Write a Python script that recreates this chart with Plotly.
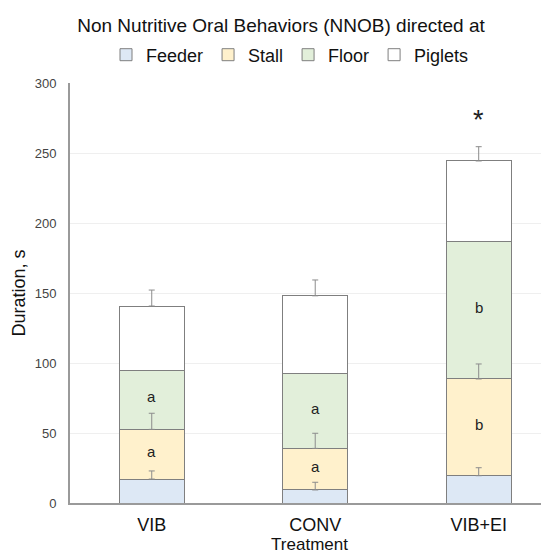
import plotly.graph_objects as go

treatments = ["VIB", "CONV", "VIB+EI"]
feeder = [17.1, 9.3, 19.5]
stall = [35.5, 29.7, 69.1]
floor_ = [42.4, 53.6, 98.1]
piglets = [45.7, 55.4, 57.6]
feeder_err = [5.8, 5.5, 5.7]
stall_err = [11.5, 10.8, 10.7]
piglets_err = [11.4, 11.3, 10.2]
stall_letters = ["a", "a", "b"]
floor_letters = ["a", "a", "b"]
star_label = "*"

font = "Liberation Sans, Arial, sans-serif"
edge = "#7f7f7f"

def err(vals):
    return dict(type="data", symmetric=False, array=vals, arrayminus=[0] * len(vals),
                visible=True, color="#8c8c8c", thickness=1, width=3)

fig = go.Figure()
fig.add_trace(go.Bar(name="Feeder", x=treatments, y=feeder, marker=dict(color="#dde8f5", line=dict(color=edge, width=1))))
fig.add_trace(go.Bar(name="Stall", x=treatments, y=stall, marker=dict(color="#fff1cc", line=dict(color=edge, width=1))))
fig.add_trace(go.Bar(name="Floor", x=treatments, y=floor_, marker=dict(color="#e2efda", line=dict(color=edge, width=1))))
fig.add_trace(go.Bar(name="Piglets", x=treatments, y=piglets, marker=dict(color="#ffffff", line=dict(color=edge, width=1))))

# error bars drawn on top of the stack, at the top of each segment
cum1 = [a for a in feeder]
cum2 = [a + b for a, b in zip(feeder, stall)]
cum4 = [a + b + c + d for a, b, c, d in zip(feeder, stall, floor_, piglets)]
for ys, es in [(cum1, feeder_err), (cum2, stall_err), (cum4, piglets_err)]:
    fig.add_trace(go.Scatter(x=treatments, y=ys, mode="markers", marker=dict(size=1, opacity=0),
                             error_y=err(es), showlegend=False, hoverinfo="skip"))

ann = []
for i, t in enumerate(treatments):
    ann.append(dict(x=t, y=feeder[i] + stall[i] / 2 + 2, text=stall_letters[i], showarrow=False, xref="x", yref="y", font=dict(size=15, color="#222", family=font)))
    ann.append(dict(x=t, y=feeder[i] + stall[i] + floor_[i] / 2 + 2, text=floor_letters[i], showarrow=False, xref="x", yref="y", font=dict(size=15, color="#222", family=font)))
top = cum4[2] + piglets_err[2]
ann.append(dict(x=treatments[2], y=top + 19, text=star_label, showarrow=False, xref="x", yref="y", font=dict(size=27, color="#222", family=font)))

# page body has an 8px margin, so the figure is 8px smaller than the window
fig.update_layout(
    barmode="stack",
    bargap=0.6,
    width=541, height=546,
    margin=dict(l=62, r=0, t=75, b=51),
    paper_bgcolor="white", plot_bgcolor="white",
    font=dict(family=font, color="#111"),
    title=dict(text="Non Nutritive Oral Behaviors (NNOB) directed at", x=273 / 541, xanchor="center", y=1 - 17 / 546, yanchor="middle", font=dict(size=19, color="#111", family=font)),
    legend=dict(orientation="h", x=(282 - 62) / 479, xanchor="center", y=1 + 28 / 420, yanchor="middle", font=dict(size=18, family=font, color="#111"), traceorder="normal", itemwidth=30, bgcolor="rgba(0,0,0,0)"),
    showlegend=True,
    annotations=ann,
    xaxis=dict(range=[-0.5, 2.43], showline=True, linecolor="#9a9a9a", linewidth=1.5, tickfont=dict(size=18, color="#111", family=font), title=dict(text="Treatment", font=dict(size=17, color="#111", family=font), standoff=2), ticks="outside", ticklen=5, tickcolor="rgba(0,0,0,0)"),
    yaxis=dict(range=[0, 300], dtick=50, showline=True, linecolor="#9a9a9a", linewidth=2, gridcolor="#efefef", gridwidth=1, tickfont=dict(size=13, color="#444", family=font), title=dict(text="Duration, s", font=dict(size=18, color="#111", family=font), standoff=4), ticks="outside", ticklen=9, tickcolor="rgba(0,0,0,0)", zeroline=False),
)
fig.write_html("out.html")
